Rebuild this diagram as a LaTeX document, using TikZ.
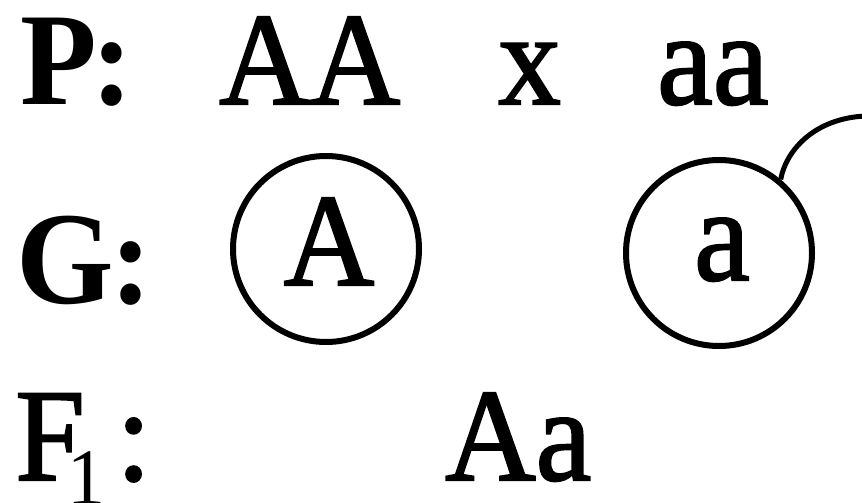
\documentclass[tikz,border=0pt]{standalone}
\usepackage{fontspec}
\setmainfont{Liberation Serif}
\newfontfamily\heavyserif{Liberation Serif}[FakeBold=1.6]
\begin{document}
\begin{tikzpicture}[x=1pt,y=-1pt,
  txt/.style={inner sep=0pt, anchor=base west, xscale=0.95, font=\fontsize{132}{134}\heavyserif},
  btxt/.style={txt, font=\fontsize{132}{134}\rmfamily\bfseries},
  gam/.style={circle, draw, line width=6pt, minimum size=186pt, inner sep=0pt},
  link/.style={line width=5pt}]
\useasboundingbox (0,0) rectangle (862,503);
\fill[white] (0,0) rectangle (862,503);
% row P
\node[btxt] (P) at (20,104) {P\kern-6pt:};
\node[txt] (AA) at (219,104) {AA};
\node[txt] (x) at (498,104) {x};
\node[txt] (aa) at (657,104) {aa};
% row G
\node[btxt] (G) at (16,303) {G\kern-3pt:};
\node[gam] (cA) at (326,249) {};
\node[txt, anchor=base] (A) at (329,285) {A};
\node[gam] (ca) at (719,253) {};
\node[txt, anchor=base] (a) at (722,280) {a};
\coordinate (tail) at (866,116);
\draw[link] (ca.50) .. controls (786,150) and (815,118) .. (tail);
% row F1
\node[txt] (F) at (15,480) {F\kern-18pt\raisebox{-24pt}{\fontsize{80}{80}\rmfamily 1}\kern11pt:};
\node[txt] (Aa) at (445,480) {Aa};
\end{tikzpicture}
\end{document}
